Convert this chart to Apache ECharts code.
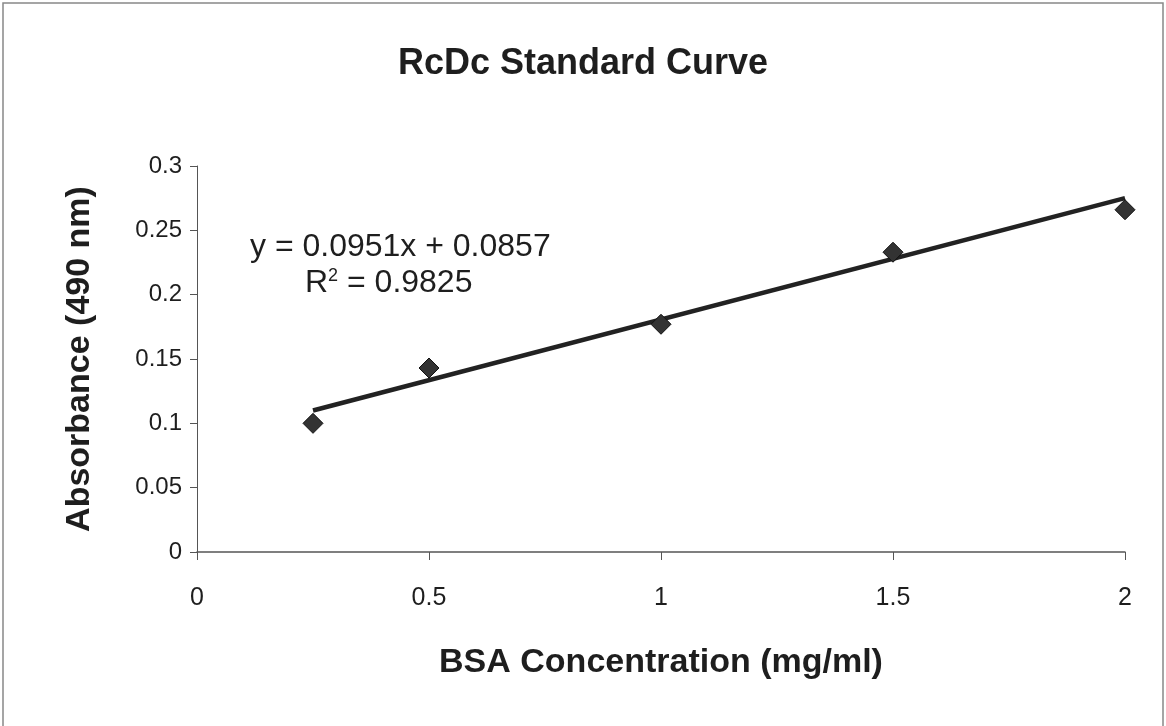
<!DOCTYPE html>
<html>
<head>
    <meta charset="utf-8">
    <title>RcDc Standard Curve</title>
    <script src="https://cdn.jsdelivr.net/npm/echarts@6/dist/echarts.min.js"></script>
</head>
<body>
<style>
    html, body, #main {
        width: 100%;
        height: 100%;
        padding: 0;
        margin: 0;
        background: #fff;
    }
</style>
<div id="main"></div>
<script type="text/javascript">
    // BSA standards and measured absorbance
    var concentration = [0.25, 0.5, 1, 1.5, 2];
    var absorbance = [0.100, 0.143, 0.177, 0.233, 0.266];

    // linear trendline ends (y = 0.0951x + 0.0857)
    var trendX = [0.25, 2];
    var trendY = [0.110, 0.275];

    var equationText = 'y = 0.0951x + 0.0857';
    var r2Value = '0.9825';

    var font = 'Liberation Sans, Arial, sans-serif';
    var ink = '#1e1e1e';

    var myChart = echarts.init(document.getElementById('main'));

    var points = concentration.map(function (x, i) { return [x, absorbance[i]]; });
    var trend = trendX.map(function (x, i) { return [x, trendY[i]]; });

    myChart.setOption({
        backgroundColor: '#fff',
        animation: false,
        title: {
            text: 'RcDc Standard Curve',
            left: 'center',
            top: 41,
            textStyle: {
                fontFamily: font,
                fontSize: 36,
                fontWeight: 'bold',
                color: ink
            }
        },
        grid: {
            left: 197,
            right: 41,
            top: 166,
            bottom: 174
        },
        xAxis: {
            type: 'value',
            min: 0,
            max: 2,
            interval: 0.5,
            name: 'BSA Concentration (mg/ml)',
            nameLocation: 'middle',
            nameGap: 94,
            nameTextStyle: {
                fontFamily: font,
                fontSize: 34,
                fontWeight: 'bold',
                color: ink
            },
            axisLine: { onZero: false, lineStyle: { color: '#555', width: 1.5 } },
            axisTick: { show: true, length: 8, lineStyle: { color: '#555' } },
            splitLine: { show: false },
            axisLabel: {
                margin: 34,
                fontFamily: font,
                fontSize: 25,
                color: ink
            }
        },
        yAxis: {
            type: 'value',
            min: 0,
            max: 0.3,
            interval: 0.05,
            name: 'Absorbance (490 nm)',
            nameLocation: 'middle',
            nameGap: 100,
            nameTextStyle: {
                fontFamily: font,
                fontSize: 34,
                fontWeight: 'bold',
                color: ink
            },
            axisLine: { show: true, lineStyle: { color: '#555', width: 1 } },
            axisTick: { show: true, length: 7, lineStyle: { color: '#555' } },
            splitLine: { show: false },
            axisLabel: {
                margin: 15,
                fontFamily: font,
                fontSize: 24,
                color: ink
            }
        },
        graphic: [
            {
                type: 'rect',
                shape: { x: 3, y: 3, width: 1160, height: 760 },
                style: { fill: 'none', stroke: '#888', lineWidth: 1.5 },
                silent: true
            },
            {
                type: 'text',
                left: 250,
                top: 231,
                style: {
                    text: equationText,
                    fontFamily: font,
                    fontSize: 32,
                    fill: ink
                }
            },
            {
                type: 'text',
                left: 305,
                top: 267,
                style: {
                    text: 'R{sup|2} = ' + r2Value,
                    fontFamily: font,
                    fontSize: 32,
                    fill: ink,
                    rich: {
                        sup: {
                            fontFamily: font,
                            fontSize: 18,
                            verticalAlign: 'top',
                            padding: [0, 0, 13, 0],
                            fill: ink
                        }
                    }
                }
            }
        ],
        series: [
            {
                type: 'line',
                data: trend,
                symbol: 'none',
                lineStyle: { color: '#222', width: 4.5 },
                z: 2
            },
            {
                type: 'scatter',
                data: points,
                symbol: 'diamond',
                symbolSize: [20, 20],
                itemStyle: { color: '#333', borderColor: '#111', borderWidth: 1, opacity: 1 },
                z: 3
            }
        ]
    });

    window.onresize = function () {
        myChart.resize();
    };
</script>
</body>
</html>
